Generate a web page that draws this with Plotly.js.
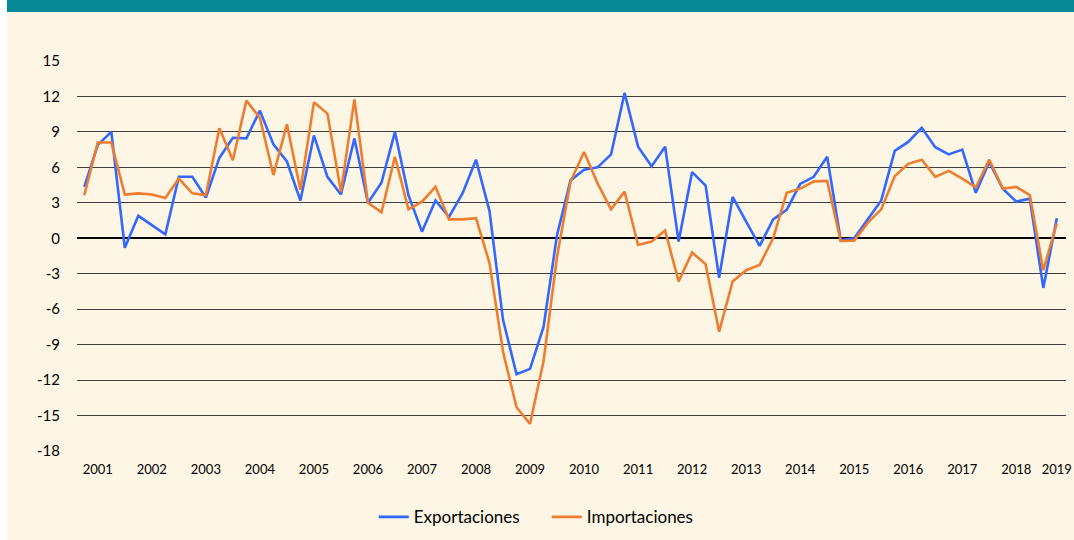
<!DOCTYPE html>
<html>
<head>
<meta charset="utf-8">
<script src="https://cdn.plot.ly/plotly-3.0.1.min.js"></script>
<style>
  html, body { margin: 0; padding: 0; background: #ffffff; }
  #wrap { position: relative; width: 1074px; height: 540px; overflow: hidden; }
  #chart { position: absolute; left: 0; top: 0; width: 1074px; height: 540px; }
  #band { position: absolute; left: 7px; top: 0; width: 1067px; height: 12px; background: #078A95; }
  #strip { position: absolute; left: 0; top: 0; width: 7px; height: 540px; background: #ffffff; }
</style>
</head>
<body>
<div id="wrap">
  <div id="chart"></div>
  <div id="strip"></div>
  <div id="band"></div>
</div>
<script>
// Years and quarters (2001T1 .. 2019T1)
const years = [2001,2002,2003,2004,2005,2006,2007,2008,2009,2010,2011,2012,2013,2014,2015,2016,2017,2018,2019];
const quarterNames = ["T1","T2","T3","T4"];

// Exportaciones (% var. interanual)
const exportaciones = [
  4.35, 7.9, 9.0, -0.8,
  1.9, 1.1, 0.33, 5.2,
  5.2, 3.45, 6.8, 8.5,
  8.45, 10.8, 7.95, 6.5,
  3.2, 8.7, 5.2, 3.7,
  8.45, 3.0, 4.7, 9.0,
  3.65, 0.56, 3.2, 1.8,
  3.8, 6.65, 2.3, -6.9,
  -11.5, -11.05, -7.5, 0.28,
  4.9, 5.8, 6.0, 7.1,
  12.3, 7.75, 6.1, 7.75,
  -0.28, 5.6, 4.45, -3.35,
  3.5, 1.4, -0.65, 1.6,
  2.4, 4.6, 5.2, 6.9,
  -0.15, 0.0, 1.55, 3.2,
  7.4, 8.15, 9.35, 7.7,
  7.1, 7.5, 3.85, 6.45,
  4.2, 3.1, 3.35, -4.2,
  1.7
];

// Importaciones (% var. interanual)
const importaciones = [
  3.65, 8.1, 8.1, 3.7,
  3.8, 3.7, 3.4, 5.05,
  3.8, 3.65, 9.3, 6.6,
  11.65, 10.2, 5.35, 9.65,
  4.1, 11.5, 10.55, 3.95,
  11.75, 3.0, 2.2, 6.9,
  2.45, 3.1, 4.35, 1.6,
  1.6, 1.7, -2.1, -9.6,
  -14.3, -15.7, -10.4, -1.55,
  4.8, 7.3, 4.65, 2.45,
  3.95, -0.57, -0.28, 0.65,
  -3.65, -1.2, -2.2, -7.9,
  -3.65, -2.7, -2.25, 0.0,
  3.85, 4.2, 4.8, 4.85,
  -0.23, -0.2, 1.3, 2.45,
  5.25, 6.3, 6.65, 5.2,
  5.7, 5.05, 4.3, 6.65,
  4.2, 4.35, 3.65, -2.7,
  1.25
];

// Category labels for each quarter
const quarters = [];
for (const y of years) {
  for (const q of quarterNames) {
    if (quarters.length < exportaciones.length) quarters.push(y + "-" + q);
  }
}

// Year tick positions (second quarter of each year, last year at its first quarter)
const tickQuarters = ["2001-T2","2002-T2","2003-T2","2004-T2","2005-T2","2006-T2","2007-T2","2008-T2","2009-T2","2010-T2","2011-T2","2012-T2","2013-T2","2014-T2","2015-T2","2016-T2","2017-T2","2018-T2","2019-T1"];
const tickYears = ["2001","2002","2003","2004","2005","2006","2007","2008","2009","2010","2011","2012","2013","2014","2015","2016","2017","2018","2019"];
const yTicks = [15,12,9,6,3,0,-3,-6,-9,-12,-15,-18];

const FONT = "Lato, 'Liberation Sans', sans-serif";

const traces = [
  { x: quarters, y: exportaciones, name: "Exportaciones", type: "scatter", mode: "lines",
    line: { color: "#3268FF", width: 2.6 } },
  { x: quarters, y: importaciones, name: "Importaciones", type: "scatter", mode: "lines",
    line: { color: "#EF7D30", width: 2.6 } }
];

const layout = {
  width: 1074, height: 540,
  paper_bgcolor: "#FEF6E4", plot_bgcolor: "#FEF6E4",
  margin: { l: 77, r: 8, t: 61, b: 89, autoexpand: false },
  font: { family: FONT, size: 13, color: "#000000" },
  showlegend: true,
  legend: { orientation: "h", x: 0.475, xanchor: "center", y: -0.17, yanchor: "middle",
            font: { family: FONT, size: 17, color: "#000" }, itemwidth: 30,
            entrywidth: 128, entrywidthmode: "pixels", tracegroupgap: 0,
            bgcolor: "rgba(0,0,0,0)" },
  xaxis: {
    type: "category", range: [-0.54, 72.68],
    tickmode: "array", tickvals: tickQuarters, ticktext: tickYears,
    showgrid: false, zeroline: false, showline: false, ticks: "",
    tickangle: 0, tickfont: { family: FONT, size: 13, color: "#000" },
    ticklabelstandoff: 9
  },
  yaxis: {
    range: [-18, 15], tickmode: "array", tickvals: yTicks, ticktext: yTicks.map(String),
    showgrid: true, gridcolor: "#404040", gridwidth: 1,
    zeroline: true, zerolinecolor: "#000000", zerolinewidth: 2,
    showline: false, ticks: "",
    tickfont: { family: FONT, size: 15, color: "#000" },
    ticklabelstandoff: 16
  }
};

Plotly.newPlot("chart", traces, layout, { displayModeBar: false, staticPlot: true });
</script>
</body>
</html>
